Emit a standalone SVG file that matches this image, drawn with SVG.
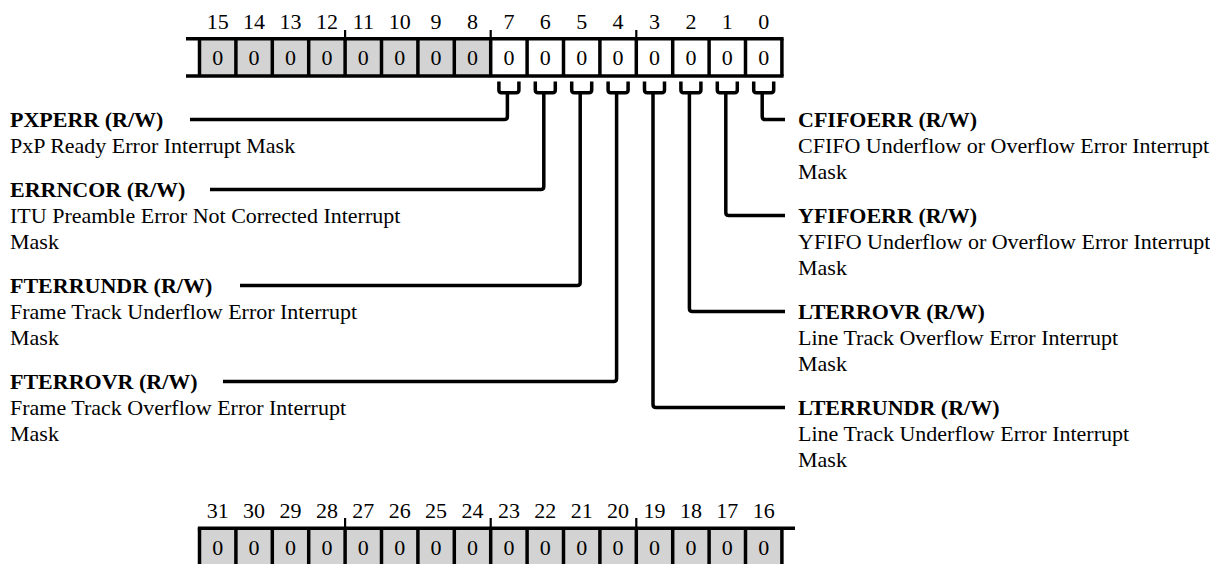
<svg xmlns="http://www.w3.org/2000/svg" width="1210" height="564" viewBox="0 0 1210 564">
<style>
text{font-family:"Liberation Serif","Times New Roman",serif;font-size:22px;fill:#000}
.b{font-weight:bold}
.n{text-anchor:middle}
.cell{fill:#d3d3d3;stroke:none}
.div{stroke:#000;stroke-width:3.5}
.hl{stroke:#000;stroke-width:3.5}
.tick{stroke:#000;stroke-width:2.2}
.con{fill:none;stroke:#000;stroke-width:3.5;stroke-linejoin:round}
</style>
<rect width="1210" height="564" fill="#fff"/>
<g id="register-low">
<rect class="cell" x="199.5" y="38.7" width="291.2" height="37.3"/>
<g class="div">
<line x1="199.5" y1="38.7" x2="199.5" y2="76"/><line x1="235.9" y1="38.7" x2="235.9" y2="76"/><line x1="272.3" y1="38.7" x2="272.3" y2="76"/><line x1="308.7" y1="38.7" x2="308.7" y2="76"/><line x1="345.1" y1="38.7" x2="345.1" y2="76"/><line x1="381.5" y1="38.7" x2="381.5" y2="76"/><line x1="417.9" y1="38.7" x2="417.9" y2="76"/><line x1="454.3" y1="38.7" x2="454.3" y2="76"/><line x1="490.7" y1="38.7" x2="490.7" y2="76"/><line x1="527.1" y1="38.7" x2="527.1" y2="76"/><line x1="563.5" y1="38.7" x2="563.5" y2="76"/><line x1="599.9" y1="38.7" x2="599.9" y2="76"/><line x1="636.3" y1="38.7" x2="636.3" y2="76"/><line x1="672.7" y1="38.7" x2="672.7" y2="76"/><line x1="709.1" y1="38.7" x2="709.1" y2="76"/><line x1="745.5" y1="38.7" x2="745.5" y2="76"/><line x1="781.9" y1="38.7" x2="781.9" y2="76"/>
</g>
<line class="hl" x1="186" y1="38.7" x2="783.6" y2="38.7"/>
<line class="hl" x1="186" y1="76" x2="783.6" y2="76"/>
<line class="tick" x1="345.1" y1="30" x2="345.1" y2="38.7"/>
<line class="tick" x1="490.7" y1="30" x2="490.7" y2="38.7"/>
<line class="tick" x1="636.3" y1="30" x2="636.3" y2="38.7"/>
<g class="n">
<text class="n" x="217.7" y="29">15</text><text class="n" x="254.1" y="29">14</text><text class="n" x="290.5" y="29">13</text><text class="n" x="326.9" y="29">12</text><text class="n" x="363.3" y="29">11</text><text class="n" x="399.7" y="29">10</text><text class="n" x="436.1" y="29">9</text><text class="n" x="472.5" y="29">8</text><text class="n" x="508.9" y="29">7</text><text class="n" x="545.3" y="29">6</text><text class="n" x="581.7" y="29">5</text><text class="n" x="618.1" y="29">4</text><text class="n" x="654.5" y="29">3</text><text class="n" x="690.9" y="29">2</text><text class="n" x="727.3" y="29">1</text><text class="n" x="763.7" y="29">0</text>
<text class="n" x="217.7" y="65">0</text><text class="n" x="254.1" y="65">0</text><text class="n" x="290.5" y="65">0</text><text class="n" x="326.9" y="65">0</text><text class="n" x="363.3" y="65">0</text><text class="n" x="399.7" y="65">0</text><text class="n" x="436.1" y="65">0</text><text class="n" x="472.5" y="65">0</text><text class="n" x="508.9" y="65">0</text><text class="n" x="545.3" y="65">0</text><text class="n" x="581.7" y="65">0</text><text class="n" x="618.1" y="65">0</text><text class="n" x="654.5" y="65">0</text><text class="n" x="690.9" y="65">0</text><text class="n" x="727.3" y="65">0</text><text class="n" x="763.7" y="65">0</text>
</g>
</g>
<g id="register-high">
<rect class="cell" x="199.5" y="528.3" width="582.4" height="37.3"/>
<g class="div">
<line x1="199.5" y1="528.3" x2="199.5" y2="566"/><line x1="235.9" y1="528.3" x2="235.9" y2="566"/><line x1="272.3" y1="528.3" x2="272.3" y2="566"/><line x1="308.7" y1="528.3" x2="308.7" y2="566"/><line x1="345.1" y1="528.3" x2="345.1" y2="566"/><line x1="381.5" y1="528.3" x2="381.5" y2="566"/><line x1="417.9" y1="528.3" x2="417.9" y2="566"/><line x1="454.3" y1="528.3" x2="454.3" y2="566"/><line x1="490.7" y1="528.3" x2="490.7" y2="566"/><line x1="527.1" y1="528.3" x2="527.1" y2="566"/><line x1="563.5" y1="528.3" x2="563.5" y2="566"/><line x1="599.9" y1="528.3" x2="599.9" y2="566"/><line x1="636.3" y1="528.3" x2="636.3" y2="566"/><line x1="672.7" y1="528.3" x2="672.7" y2="566"/><line x1="709.1" y1="528.3" x2="709.1" y2="566"/><line x1="745.5" y1="528.3" x2="745.5" y2="566"/><line x1="781.9" y1="528.3" x2="781.9" y2="566"/>
</g>
<line class="hl" x1="197.8" y1="528.3" x2="795" y2="528.3"/>
<line class="tick" x1="345.1" y1="518" x2="345.1" y2="528.3"/>
<line class="tick" x1="490.7" y1="518" x2="490.7" y2="528.3"/>
<line class="tick" x1="636.3" y1="518" x2="636.3" y2="528.3"/>
<text class="n" x="217.7" y="518">31</text><text class="n" x="254.1" y="518">30</text><text class="n" x="290.5" y="518">29</text><text class="n" x="326.9" y="518">28</text><text class="n" x="363.3" y="518">27</text><text class="n" x="399.7" y="518">26</text><text class="n" x="436.1" y="518">25</text><text class="n" x="472.5" y="518">24</text><text class="n" x="508.9" y="518">23</text><text class="n" x="545.3" y="518">22</text><text class="n" x="581.7" y="518">21</text><text class="n" x="618.1" y="518">20</text><text class="n" x="654.5" y="518">19</text><text class="n" x="690.9" y="518">18</text><text class="n" x="727.3" y="518">17</text><text class="n" x="763.7" y="518">16</text>
<text class="n" x="217.7" y="554.5">0</text><text class="n" x="254.1" y="554.5">0</text><text class="n" x="290.5" y="554.5">0</text><text class="n" x="326.9" y="554.5">0</text><text class="n" x="363.3" y="554.5">0</text><text class="n" x="399.7" y="554.5">0</text><text class="n" x="436.1" y="554.5">0</text><text class="n" x="472.5" y="554.5">0</text><text class="n" x="508.9" y="554.5">0</text><text class="n" x="545.3" y="554.5">0</text><text class="n" x="581.7" y="554.5">0</text><text class="n" x="618.1" y="554.5">0</text><text class="n" x="654.5" y="554.5">0</text><text class="n" x="690.9" y="554.5">0</text><text class="n" x="727.3" y="554.5">0</text><text class="n" x="763.7" y="554.5">0</text>
</g>
<g id="connectors">
<path class="con" d="M498.9 81.5V90Q498.9 92.7 501.6 92.7H516.2Q518.9 92.7 518.9 90V81.5"/>
<path class="con" d="M535.3 81.5V90Q535.3 92.7 538 92.7H552.6Q555.3 92.7 555.3 90V81.5"/>
<path class="con" d="M571.7 81.5V90Q571.7 92.7 574.4 92.7H589Q591.7 92.7 591.7 90V81.5"/>
<path class="con" d="M608.1 81.5V90Q608.1 92.7 610.8 92.7H625.4Q628.1 92.7 628.1 90V81.5"/>
<path class="con" d="M644.5 81.5V90Q644.5 92.7 647.2 92.7H661.8Q664.5 92.7 664.5 90V81.5"/>
<path class="con" d="M680.9 81.5V90Q680.9 92.7 683.6 92.7H698.2Q700.9 92.7 700.9 90V81.5"/>
<path class="con" d="M717.3 81.5V90Q717.3 92.7 720 92.7H734.6Q737.3 92.7 737.3 90V81.5"/>
<path class="con" d="M753.7 81.5V90Q753.7 92.7 756.4 92.7H771Q773.7 92.7 773.7 90V81.5"/>
<path class="con" d="M507.4 92.7V116.5Q507.4 119.5 504.4 119.5H190"/>
<path class="con" d="M543.8 92.7V186.5Q543.8 189.5 540.8 189.5H210"/>
<path class="con" d="M580.2 92.7V282.5Q580.2 285.5 577.2 285.5H240"/>
<path class="con" d="M616.6 92.7V378.5Q616.6 381.5 613.6 381.5H223"/>
<path class="con" d="M653 92.7V404.5Q653 407.5 656 407.5H785"/>
<path class="con" d="M689.4 92.7V308.5Q689.4 311.5 692.4 311.5H785"/>
<path class="con" d="M725.8 92.7V212.5Q725.8 215.5 728.8 215.5H785"/>
<path class="con" d="M762.2 92.7V116.5Q762.2 119.5 765.2 119.5H785"/>
</g>
<g id="pxperr"><text class="b" x="10" y="127">PXPERR (R/W)</text><text x="10" y="153">PxP Ready Error Interrupt Mask</text></g>
<g id="errncor"><text class="b" x="10" y="197">ERRNCOR (R/W)</text><text x="10" y="223">ITU Preamble Error Not Corrected Interrupt</text><text x="10" y="249">Mask</text></g>
<g id="fterrundr"><text class="b" x="10" y="293">FTERRUNDR (R/W)</text><text x="10" y="319">Frame Track Underflow Error Interrupt</text><text x="10" y="345">Mask</text></g>
<g id="fterrovr"><text class="b" x="10" y="389">FTERROVR (R/W)</text><text x="10" y="415">Frame Track Overflow Error Interrupt</text><text x="10" y="441">Mask</text></g>
<g id="cfifoerr"><text class="b" x="798" y="127">CFIFOERR (R/W)</text><text x="798" y="153">CFIFO Underflow or Overflow Error Interrupt</text><text x="798" y="179">Mask</text></g>
<g id="yfifoerr"><text class="b" x="798" y="223">YFIFOERR (R/W)</text><text x="798" y="249">YFIFO Underflow or Overflow Error Interrupt</text><text x="798" y="275">Mask</text></g>
<g id="lterrovr"><text class="b" x="798" y="319">LTERROVR (R/W)</text><text x="798" y="345">Line Track Overflow Error Interrupt</text><text x="798" y="371">Mask</text></g>
<g id="lterrundr"><text class="b" x="798" y="415">LTERRUNDR (R/W)</text><text x="798" y="441">Line Track Underflow Error Interrupt</text><text x="798" y="467">Mask</text></g>
</svg>
